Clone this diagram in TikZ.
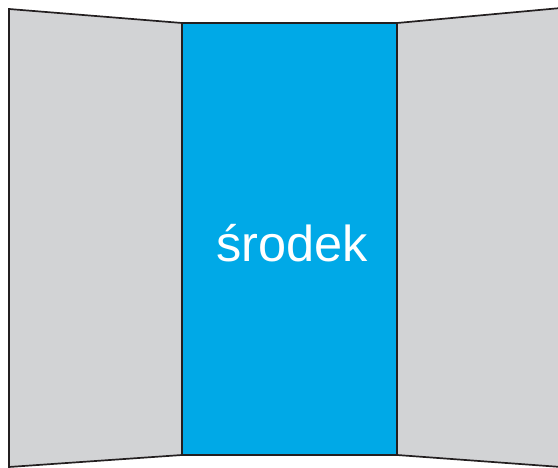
\documentclass[tikz,border=0pt]{standalone}
\usepackage{fontspec}
\setmainfont{Liberation Sans}
\usepackage{xcolor}
\definecolor{panel}{RGB}{210,211,213}
\definecolor{mid}{RGB}{0,169,231}
\definecolor{edge}{RGB}{35,31,32}
\usepackage{tikz}
\usetikzlibrary{positioning, calc}

\begin{document}
\begin{tikzpicture}[x=1pt, y=-1pt]
    \useasboundingbox (0,0) rectangle (558,468);

    % Left wing
    \draw[fill=panel, draw=edge, line width=1.7pt, line join=miter]
        (9,9) -- (182,23) -- (182,455) -- (9,467) -- cycle;

    % Right wing (outer edge runs off the page)
    \draw[fill=panel, draw=edge, line width=1.7pt]
        (397,23) -- (561,8) -- (561,467) -- (397,455) -- cycle;

    % Middle panel
    \draw[fill=mid, draw=edge, line width=1.7pt] (182,23) rectangle (397,455);

    % Label
    \node[anchor=base, text=white, font=\fontsize{50.5}{60}\selectfont, inner sep=0pt]
        (srodek) at (292,262) {środek};
\end{tikzpicture}
\end{document}
